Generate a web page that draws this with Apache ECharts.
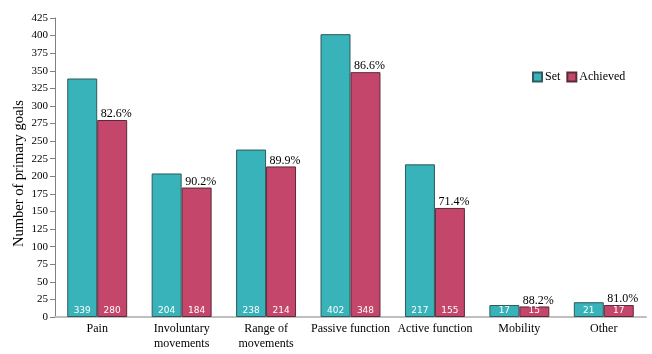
<!DOCTYPE html>
<html>
<head>
<meta charset="utf-8">
<title>Primary goals</title>
<script src="https://cdn.jsdelivr.net/npm/echarts@6/dist/echarts.min.js"></script>
<style>
  html, body { margin: 0; padding: 0; background: #fff; }
  #chart { width: 652px; height: 354px; }
</style>
</head>
<body>
<div id="chart"></div>
<script>
// categories and values
var categories = ['Pain', 'Involuntary\nmovements', 'Range of\nmovements', 'Passive function', 'Active function', 'Mobility', 'Other'];
var setValues = [339, 204, 238, 402, 217, 17, 21];
var achievedValues = [280, 184, 214, 348, 155, 15, 17];
var percentLabels = ['82.6%', '90.2%', '89.9%', '86.6%', '71.4%', '88.2%', '81.0%'];
var yTicks = { min: 0, max: 425, interval: 25 };

var serif = '"Liberation Serif", "DejaVu Serif", serif';

// percent labels sit above the Achieved bars
var pctPoints = achievedValues.map(function (v, i) {
    return { coord: [i, v], value: percentLabels[i] };
});

var chart = echarts.init(document.getElementById('chart'));
chart.setOption({
    animation: false,
    grid: { left: 55, right: 6, top: 18, bottom: 37 },
    legend: {
        data: ['Set', 'Achieved'],
        left: 527,
        top: 66,
        itemWidth: 9,
        itemHeight: 9,
        itemGap: 6,
        icon: 'rect',
        textStyle: { fontFamily: serif, fontSize: 12, color: '#000', padding: [0, 0, 0, -2] }
    },
    xAxis: {
        type: 'category',
        data: categories,
        axisLine: { lineStyle: { color: '#bfbfbf', width: 2 } },
        axisTick: { show: false },
        axisLabel: { fontFamily: serif, fontSize: 12, color: '#000', margin: 4, lineHeight: 15, interval: 0 }
    },
    yAxis: {
        type: 'value',
        min: yTicks.min,
        max: yTicks.max,
        interval: yTicks.interval,
        name: 'Number of primary goals',
        nameLocation: 'middle',
        nameGap: 28,
        nameMoveOverlap: false,
        nameTextStyle: { fontFamily: serif, fontSize: 14.5, color: '#000', padding: [0, 0, 0, -12] },
        axisLine: { show: true, lineStyle: { color: '#808080' } },
        axisTick: { show: true, length: 5, lineStyle: { color: '#808080' } },
        axisLabel: { fontFamily: serif, fontSize: 11, color: '#000', margin: 7 },
        splitLine: { show: false }
    },
    series: [
        {
            name: 'Set',
            type: 'bar',
            data: setValues,
            barGap: 0,
            barCategoryGap: '29%',
            itemStyle: { color: '#37b3b9', borderColor: '#2f5a5e', borderWidth: 1 },
            label: {
                show: true, position: 'insideBottom', distance: 2,
                color: '#fff', fontFamily: '"DejaVu Sans", sans-serif', fontSize: 9
            }
        },
        {
            name: 'Achieved',
            type: 'bar',
            data: achievedValues,
            itemStyle: { color: '#c5466b', borderColor: '#5a2a3a', borderWidth: 1 },
            label: {
                show: true, position: 'insideBottom', distance: 2,
                color: '#fff', fontFamily: '"DejaVu Sans", sans-serif', fontSize: 9
            },
            markPoint: {
                symbol: 'rect',
                symbolSize: 0,
                data: pctPoints,
                label: {
                    show: true, position: 'top', distance: 0, offset: [4, 0],
                    formatter: function (p) { return p.value; },
                    fontFamily: serif, fontSize: 12, color: '#000'
                }
            }
        }
    ]
});
</script>
</body>
</html>
